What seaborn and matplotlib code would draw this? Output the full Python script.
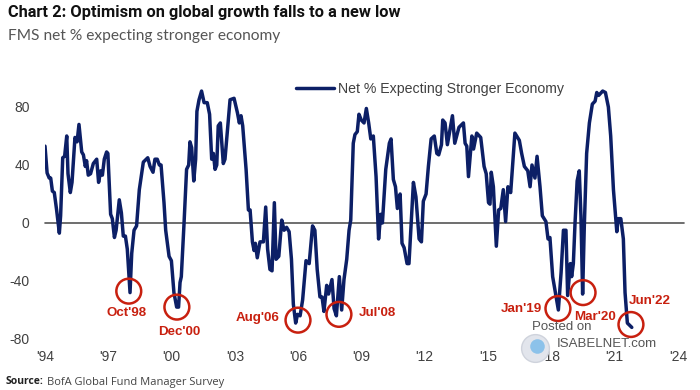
import numpy as np
import pandas as pd
import matplotlib
matplotlib.use('Agg')
import matplotlib.pyplot as plt
import seaborn as sns

years = [1994.0,1994.1,1994.2,1994.27,1994.35,1994.44,1994.55,1994.68,1994.74,1994.84,1994.93,1995.03,1995.09,1995.2,1995.28,1995.42,1995.52,1995.61,1995.74,1995.82,1995.91,1995.97,1996.05,1996.16,1996.29,1996.45,1996.54,1996.64,1996.72,1996.81,1996.92,1996.98,
         1997.11,1997.19,1997.29,1997.37,1997.52,1997.62,1997.71,1997.81,1997.9,1998.03,1998.11,1998.22,1998.34,1998.47,1998.66,1998.87,1998.98,1999.12,1999.21,1999.32,1999.42,1999.5,1999.64,1999.72,1999.88,1999.99,
         2000.11,2000.24,2000.33,2000.4,2000.46,2000.59,2000.71,2000.81,2000.87,2000.95,2001.05,2001.14,2001.2,2001.3,2001.42,2001.54,2001.69,2001.8,2001.9,2001.98,2002.06,2002.14,2002.21,2002.31,2002.45,2002.53,2002.77,2002.96,
         2003.12,2003.21,2003.29,2003.37,2003.53,2003.64,2003.72,2003.83,2003.91,2003.97,2004.06,2004.19,2004.35,2004.46,2004.55,2004.66,2004.76,2004.87,2004.95,2005.08,2005.22,2005.33,2005.45,2005.57,2005.68,2005.77,2005.88,2005.97,
         2006.09,2006.21,2006.37,2006.52,2006.68,2006.79,2006.9,2007.03,2007.13,2007.22,2007.35,2007.44,2007.6,2007.7,2007.81,2007.95,2008.06,2008.17,2008.3,2008.41,2008.49,2008.61,2008.69,2008.8,2008.88,2008.99,
         2009.12,2009.23,2009.34,2009.44,2009.56,2009.69,2009.81,2009.91,2009.99,2010.15,2010.32,2010.4,2010.51,2010.61,2010.7,2010.83,2010.92,2011.02,2011.16,2011.25,2011.38,2011.46,2011.58,2011.73,2011.84,2011.93,
         2012.06,2012.17,2012.3,2012.45,2012.57,2012.66,2012.79,2012.85,2012.96,2013.07,2013.31,2013.42,2013.62,2013.83,2013.91,2013.99,2014.07,2014.23,2014.31,2014.46,2014.65,2014.81,2014.91,
         2015.02,2015.09,2015.15,2015.25,2015.39,2015.5,2015.6,2015.72,2015.83,2015.94,2016.07,2016.27,2016.48,2016.59,2016.72,2016.88,2016.99,2017.08,2017.22,2017.32,2017.46,2017.57,2017.74,2017.84,2017.93,
         2018.06,2018.33,2018.46,2018.57,2018.69,2018.77,2018.9,2018.96,2019.04,2019.12,2019.22,2019.32,2019.4,2019.48,2019.56,2019.67,2019.8,2019.94,2020.07,2020.15,2020.24,2020.43,2020.56,2020.7,2020.81,2020.94,
         2021.1,2021.17,2021.29,2021.41,2021.49,2021.6,2021.81]
net_pct = [53,34.5,31,31,22,21,9,-7,5,45,46,60,34,21,28,59,56,68,49,47,39,43,33,34,41,44,28,36,33,44,49,48,
           6,3,-10,-5,16,7,-9,-9,-18,-48,-21,-5,-2,23,42,45,39,35,44,44,40,40,14,-5,-23,-26,
           -48,-58,-58,-41,-37,0,37,40,56,52,29,44,77,85,91,83,83,75,44,48,37,40,67,69,41,44,85,86,
           76,69,74,67,37,9,9,-13,-19,-14,-24,-13,-13,11,-18,-32,-33,14,-25,-23,2,-5,-3,-6,-25,-56,-69,-63,
           -64,-53,-26,-28,-2,-5,-32,-51,-51,-61,-43,-49,-39,-59,-64,-37,-60,-39,-25,-5,2,55,61,63,75,71,
           69,79,69,58,60,32,-11,6,0,37,55,58,30,25,10,20,-14,-17,-28,-28,7,28,18,-11,-13,15,
           20,39,58,60,48,47,54,71,69,54,74,55,66,69,55,53,32,60,51,62,59,39,34,
           14,13,35,25,-16,9,10,23,1,25,21,62,57,48,39,36,25,40,31,46,25,5,1,-11,-10,
           -37,-60,-34,-5,-5,-50,-28,-37,-28,0,29,36,5,-49,-2,48,69,82,84,90,88,91,90,80,60,23,
           -6,3,3,-11,-48,-69,-72]

circle_years = [1997.97,2000.25,2005.99,2007.93,2018.31,2019.5,2021.77]
circle_vals = [-47,-58,-67,-63,-59,-48,-70]
call_labels = ["Oct'98","Dec'00","Aug'06","Jul'08","Jan'19","Mar'20","Jun'22"]
label_px = [(127,313),(179,332),(258,318),(377,313),(521,309),(595,317),(650,301)]

tick_years = list(range(1994,2025,3))
tick_labels = ["'94","'97","'00","'03","'06","'09","'12","'15","'18","'21","'24"]
y_ticks = [-80,-40,0,40,80]

NAVY = '#0c1f66'
RED = '#c8200f'
GREY = '#404040'

sns.set_theme(style='white')
plt.rcParams['font.family'] = ['Liberation Sans','DejaVu Sans']
plt.rcParams['axes.unicode_minus'] = False

def put(x, y, s, **kw):
    return fig.text(x/700, 1-y/390, s, **kw)

fig = plt.figure(figsize=(7,3.9), dpi=100)
ax = fig.add_axes([45/700, (390-339)/390, 633/700, 261/390])

df = pd.DataFrame({'year':years,'net':net_pct})
ax.axhline(0, color='#555555', lw=1.2, xmax=1.01, clip_on=False, zorder=1)
sns.lineplot(data=df, x='year', y='net', color=NAVY, lw=2.5, ax=ax, sort=False,
             label='Net % Expecting Stronger Economy', zorder=2)

# logo behind the tick label
ax.scatter([2017.2],[-86], s=400, color='#e2e5ec', edgecolor='#cfd3dc', clip_on=False, zorder=1)
ax.scatter([2017.3],[-85], s=110, color='#8cc2ea', lw=0, clip_on=False, zorder=1)

ax.scatter(circle_years, circle_vals, s=320, facecolor='none', edgecolor=RED, lw=1.8, zorder=3)

ax.set_xlim(1994,2024)
ax.set_ylim(-80,100)
ax.set_xticks(tick_years, tick_labels)
ax.set_yticks(y_ticks)
ax.set_xlabel('')
ax.set_ylabel('')
ax.tick_params(axis='x', length=0, pad=8, labelsize=10, labelcolor=GREY)
ax.tick_params(axis='y', length=0, pad=11, labelsize=10, labelcolor=GREY)
sns.despine(ax=ax, left=True, bottom=True)

ax.legend(loc='upper left', bbox_to_anchor=(251/633, 0.985), frameon=False, fontsize=10.2,
          handlelength=2.7, handletextpad=0.25, borderpad=0, borderaxespad=0, labelcolor=GREY)

for lab, (px, py) in zip(call_labels, label_px):
    put(px, py, lab, color=RED, fontsize=9.6, fontweight='bold', ha='center', va='center')

put(8, 12, 'Chart 2: Optimism on global growth falls to a new low', fontsize=11.8, fontweight='bold',
    family=['Roboto','DejaVu Sans'], color='#111111', va='center')
put(8, 36, 'FMS net % expecting stronger economy', fontsize=11.2, family=['Lato','DejaVu Sans'],
    color='#555555', va='center')
put(6, 382, 'Source:', fontsize=7.5, fontweight='bold', family=['Open Sans','DejaVu Sans'], color='#222222', va='center')
put(47, 382, 'BofA Global Fund Manager Survey', fontsize=8, family=['Open Sans','DejaVu Sans'], color='#444444', va='center')

put(532, 327, 'Posted on', fontsize=9.5, color='#555555', va='center')
put(557, 344, 'ISABELNET.com', fontsize=9.5, color='#555555', va='center')

fig.savefig('out.png', dpi=100, facecolor='white')
